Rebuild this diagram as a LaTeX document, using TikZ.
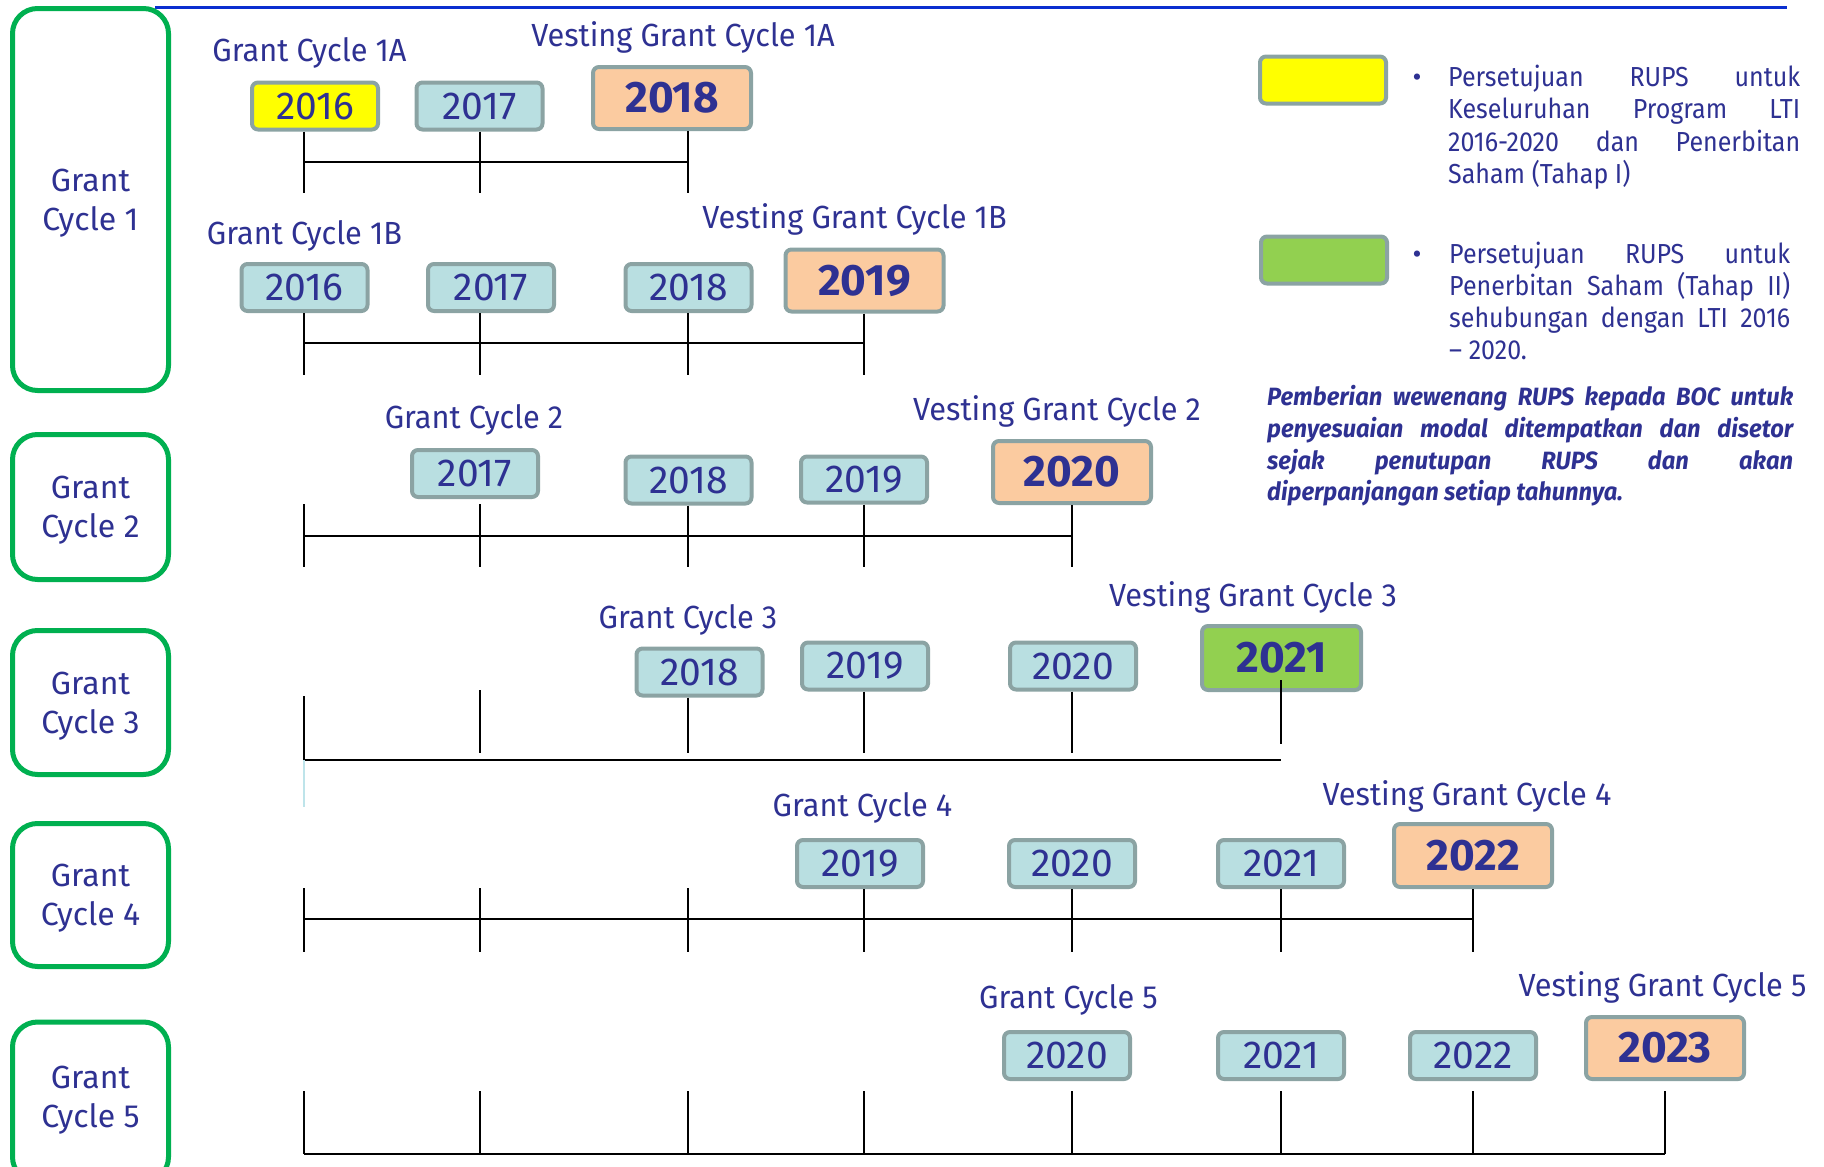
\documentclass[tikz,border=0pt]{standalone}
\usepackage{fontspec}
\setmainfont{Fira Sans}
\newfontfamily\lblfont[FakeStretch=0.96]{Fira Sans}
\newfontfamily\legfont[FakeStretch=0.91]{Fira Sans}
\newfontfamily\notefont[FakeStretch=0.95]{Fira Sans}
\definecolor{navy}{RGB}{46,49,146}
\definecolor{boxblue}{RGB}{185,223,225}
\definecolor{boxedge}{RGB}{139,163,163}
\definecolor{peach}{RGB}{251,203,160}
\definecolor{gyellow}{RGB}{255,255,0}
\definecolor{lgreen}{RGB}{146,208,80}
\definecolor{gcgreen}{RGB}{0,176,80}
\definecolor{topblue}{RGB}{10,47,208}
\definecolor{faintcyan}{RGB}{190,228,234}
\tikzset{
  yearbox/.style={draw=boxedge, line width=4pt, rounded corners=6pt, fill=boxblue,
    minimum width=126pt, minimum height=47pt, inner sep=0pt, text=navy,
    font=\fontsize{39}{39}\selectfont},
  vestbox/.style={yearbox, fill=peach, minimum width=158pt, minimum height=62pt,
    font=\fontsize{44}{44}\selectfont\bfseries},
  cyclebox/.style={draw=gcgreen, line width=5pt, rounded corners=25pt, fill=white,
    minimum width=156pt, inner sep=0pt, text=navy, align=center, text depth=0pt,
    font=\fontsize{32}{39}\selectfont},
  lbl/.style={text=navy, font=\lblfont\fontsize{32}{32}\selectfont, inner sep=0pt, anchor=base},
  legtxt/.style={text=navy, font=\legfont\fontsize{27.5}{32}\selectfont, inner sep=0pt, anchor=base west},
  noteTxt/.style={text=navy, font=\notefont\fontsize{25}{32}\selectfont\bfseries\itshape, inner sep=0pt, anchor=base west},
  tick/.style={line width=1.6pt, black},
  axis/.style={line width=2.6pt, black},
}
\begin{document}
\begin{tikzpicture}[x=1pt,y=-1pt]
\useasboundingbox (0,0) rectangle (1824,1167);
\clip (0,0) rectangle (1824,1167);
% top rule
\coordinate (TL) at (155,7.5);
\coordinate (TR) at (1787,7.5);
\draw[topblue, line width=3pt] (TL) -- (TR);

% cycle boxes
\node[cyclebox, minimum height=382pt] (gc1) at (90.5,199.5) {Grant\\Cycle 1};
\node[cyclebox, minimum height=145pt] (gc2) at (90.5,507) {Grant\\Cycle 2};
\node[cyclebox, minimum height=144pt] (gc3) at (90.5,702.5) {Grant\\Cycle 3};
\node[cyclebox, minimum height=143pt] (gc4) at (90.5,895) {Grant\\Cycle 4};
\node[cyclebox, minimum height=160pt] (gc5) at (90.5,1102) {};
\node[text=navy, align=center, text depth=0pt, font=\fontsize{32}{39}\selectfont, inner sep=0pt] (gc5t) at (90.5,1097) {Grant\\Cycle 5};

% tick columns
\coordinate (X1) at (304,0);
\coordinate (X2) at (480,0);
\coordinate (X3) at (688,0);
\coordinate (X4) at (864,0);
\coordinate (X5) at (1072,0);
\coordinate (X6) at (1281,0);
\coordinate (X7) at (1473,0);
\coordinate (X8) at (1665,0);

% ---------- Row 1A
\node[lbl] (l1a) at (309.5,61) {Grant Cycle 1A};
\node[lbl] (v1a) at (683,46) {Vesting Grant Cycle 1A};
\node[yearbox, fill=gyellow] (a16) at (315,106) {2016};
\node[yearbox] (a17) at (479.5,106) {2017};
\node[vestbox] (a18) at (672,98) {2018};
\coordinate (B1a) at (0,193);
\coordinate (H1a) at (0,162);
\draw[tick] (a16.south -| X1) -- (X1 |- B1a);
\draw[tick] (a17.south -| X2) -- (X2 |- B1a);
\draw[tick] (a18.south -| X3) -- (X3 |- B1a);
\draw[axis] (X1 |- H1a) -- (X3 |- H1a);

% ---------- Row 1B
\node[lbl] (l1b) at (304.5,244) {Grant Cycle 1B};
\node[lbl] (v1b) at (854.5,228) {Vesting Grant Cycle 1B};
\node[yearbox] (b16) at (304.5,287.5) {2016};
\node[yearbox] (b17) at (491,287.5) {2017};
\node[yearbox] (b18) at (688.5,287.5) {2018};
\node[vestbox] (b19) at (864.5,280.5) {2019};
\coordinate (B1b) at (0,375);
\coordinate (H1b) at (0,343);
\draw[tick] (b16.south -| X1) -- (X1 |- B1b);
\draw[tick] (b17.south -| X2) -- (X2 |- B1b);
\draw[tick] (b18.south -| X3) -- (X3 |- B1b);
\draw[tick] (b19.south -| X4) -- (X4 |- B1b);
\draw[axis] (X1 |- H1b) -- (X4 |- H1b);

% ---------- Row 2
\node[lbl] (l2) at (474,428) {Grant Cycle 2};
\node[lbl] (v2) at (1057,420) {Vesting Grant Cycle 2};
\node[yearbox] (c17) at (475,473.5) {2017};
\node[yearbox] (c18) at (688.5,480) {2018};
\node[yearbox, minimum height=46pt] (c19) at (864,479.5) {2019};
\node[vestbox] (c20) at (1072,472) {2020};
\coordinate (T2) at (0,504);
\coordinate (B2) at (0,567);
\coordinate (H2) at (0,536);
\draw[tick] (X1 |- T2) -- (X1 |- B2);
\draw[tick] (X2 |- T2) -- (X2 |- B2);
\draw[tick] (c18.south -| X3) -- (X3 |- B2);
\draw[tick] (c19.south -| X4) -- (X4 |- B2);
\draw[tick] (c20.south -| X5) -- (X5 |- B2);
\draw[axis] (X1 |- H2) -- (X5 |- H2);

% ---------- Row 3
\node[lbl] (l3) at (688,628) {Grant Cycle 3};
\node[lbl] (v3) at (1253,606) {Vesting Grant Cycle 3};
\node[yearbox] (d18) at (699.5,672) {2018};
\node[yearbox] (d19) at (865,666) {2019};
\node[yearbox] (d20) at (1073,666) {2020};
\node[vestbox, fill=lgreen, minimum width=159pt, minimum height=64pt] (d21) at (1281.5,658) {2021};
\coordinate (T3a) at (0,696);
\coordinate (T3b) at (0,690);
\coordinate (T3c) at (0,680);
\coordinate (B3) at (0,753);
\coordinate (B3b) at (0,744);
\coordinate (H3) at (0,760);
\coordinate (F3) at (0,807);
\draw[tick] (X1 |- T3a) -- (X1 |- H3);
\draw[tick] (X2 |- T3b) -- (X2 |- B3);
\draw[tick] (d18.south -| X3) -- (X3 |- B3);
\draw[tick] (d19.south -| X4) -- (X4 |- B3);
\draw[tick] (d20.south -| X5) -- (X5 |- B3);
\draw[tick] (X6 |- T3c) -- (X6 |- B3b);
\draw[axis] (X1 |- H3) -- (X6 |- H3);
\draw[faintcyan, line width=1.5pt] (X1 |- H3) -- (X1 |- F3);

% ---------- Row 4
\node[lbl] (l4) at (862.5,816) {Grant Cycle 4};
\node[lbl] (v4) at (1467,805) {Vesting Grant Cycle 4};
\node[yearbox] (e19) at (860,863.5) {2019};
\node[yearbox] (e20) at (1072,863.5) {2020};
\node[yearbox] (e21) at (1281,863.5) {2021};
\node[vestbox, minimum height=63pt] (e22) at (1473,855.5) {2022};
\coordinate (T4) at (0,888);
\coordinate (B4) at (0,952);
\coordinate (H4) at (0,919);
\draw[tick] (X1 |- T4) -- (X1 |- B4);
\draw[tick] (X2 |- T4) -- (X2 |- B4);
\draw[tick] (X3 |- T4) -- (X3 |- B4);
\draw[tick] (e19.south -| X4) -- (X4 |- B4);
\draw[tick] (e20.south -| X5) -- (X5 |- B4);
\draw[tick] (e21.south -| X6) -- (X6 |- B4);
\draw[tick] (e22.south -| X7) -- (X7 |- B4);
\draw[axis] (X1 |- H4) -- (X7 |- H4);

% ---------- Row 5
\node[lbl] (l5) at (1068.5,1008) {Grant Cycle 5};
\node[lbl] (v5) at (1662.5,996) {Vesting Grant Cycle 5};
\node[yearbox] (f20) at (1067,1055.5) {2020};
\node[yearbox] (f21) at (1281,1055.5) {2021};
\node[yearbox] (f22) at (1473,1055.5) {2022};
\node[vestbox] (f23) at (1665,1048) {2023};
\coordinate (T5) at (0,1091);
\coordinate (H5) at (0,1154);
\foreach \c in {X1,X2,X3,X4,X5,X6,X7,X8} {
  \draw[tick] (\c |- T5) -- (\c |- H5);
}
\draw[axis] (X1 |- H5) -- (X8 |- H5);

% ---------- Legend
\node[yearbox, fill=gyellow] (ky) at (1323,80) {};
\node[yearbox, fill=lgreen] (kg) at (1324,260) {};
\node[text=navy, font=\fontsize{27.5}{32}\selectfont, inner sep=0pt, anchor=base] (bu1) at (1417,86) {•};
\node[legtxt] (t1a) at (1448,86) {\makebox[352pt][s]{Persetujuan RUPS untuk}};
\node[legtxt] (t1b) at (1448,118.5) {\makebox[352pt][s]{Keseluruhan Program LTI}};
\node[legtxt] (t1c) at (1448,151) {\makebox[352pt][s]{2016-2020 dan Penerbitan}};
\node[legtxt] (t1d) at (1448,183) {Saham (Tahap I)};
\node[text=navy, font=\fontsize{27.5}{32}\selectfont, inner sep=0pt, anchor=base] (bu2) at (1417,263) {•};
\node[legtxt] (t2a) at (1449,263) {\makebox[341pt][s]{Persetujuan RUPS untuk}};
\node[legtxt] (t2b) at (1449,295.5) {\makebox[341pt][s]{Penerbitan Saham (Tahap II)}};
\node[legtxt] (t2c) at (1449,327) {\makebox[341pt][s]{sehubungan dengan LTI 2016}};
\node[legtxt] (t2d) at (1449,359) {– 2020.};
\node[noteTxt] (n1) at (1267,405) {\makebox[526pt][s]{Pemberian wewenang RUPS kepada BOC untuk}};
\node[noteTxt] (n2) at (1267,437) {\makebox[526pt][s]{penyesuaian modal ditempatkan dan disetor}};
\node[noteTxt] (n3) at (1267,469) {\makebox[526pt][s]{sejak penutupan RUPS dan akan}};
\node[noteTxt] (n4) at (1267,500) {diperpanjangan setiap tahunnya.};
\end{tikzpicture}
\end{document}
